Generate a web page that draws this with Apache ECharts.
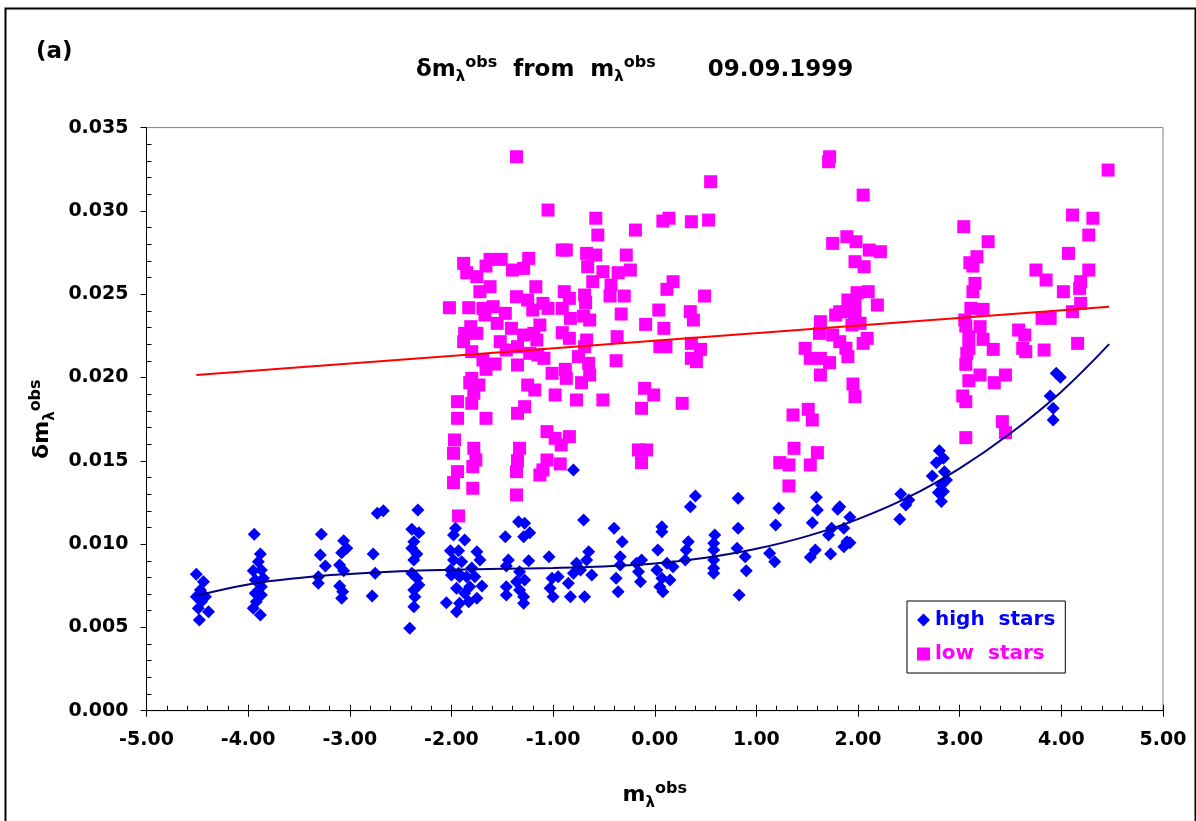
<!DOCTYPE html>
<html><head><meta charset="utf-8">
<script src="https://cdn.jsdelivr.net/npm/echarts@6/dist/echarts.min.js"></script>
<style>html,body{margin:0;padding:0;background:#fff}#c{width:1196px;height:821px}</style>
</head><body><div id="c"></div>
<script>
// ---- data ----
const xTickLabels = ['-5.00','-4.00','-3.00','-2.00','-1.00','0.00','1.00','2.00','3.00','4.00','5.00'];
const yTickLabels = ['0.000','0.005','0.010','0.015','0.020','0.025','0.030','0.035'];

const highStars = [
[-4.51,0.00819],[-4.44,0.00774],[-4.47,0.00724],[-4.51,0.00684],[-4.42,0.00684],[-4.46,0.00654],[-4.49,0.00615],[-4.39,0.00594],[-4.48,0.00544],
[-3.94,0.01059],[-3.88,0.00941],[-3.90,0.00894],[-3.95,0.00840],[-3.87,0.00845],[-3.85,0.00795],[-3.93,0.00785],[-3.87,0.00744],[-3.93,0.00705],[-3.87,0.00694],[-3.92,0.00654],[-3.95,0.00615],[-3.88,0.00574],
[-3.28,0.01059],[-3.29,0.00935],[-3.24,0.00869],[-3.31,0.00804],[-3.31,0.00765],
[-3.06,0.01020],[-3.03,0.00975],[-3.08,0.00948],[-3.10,0.00875],[-3.06,0.00840],[-3.10,0.00749],[-3.07,0.00714],[-3.08,0.00675],
[-2.77,0.00941],[-2.75,0.00825],[-2.78,0.00688],[-2.73,0.01185],[-2.67,0.01200],
[-2.33,0.01205],[-2.39,0.01089],[-2.32,0.01068],[-2.37,0.01014],[-2.39,0.00975],[-2.34,0.00941],[-2.37,0.00905],[-2.39,0.00825],[-2.34,0.00795],[-2.32,0.00754],[-2.37,0.00724],[-2.36,0.00684],[-2.37,0.00624],[-2.41,0.00495],
[-1.96,0.01095],[-1.98,0.01055],[-1.87,0.01025],[-2.01,0.00960],[-1.93,0.00960],[-1.98,0.00905],[-1.90,0.00894],[-2.00,0.00815],[-1.92,0.00804],[-1.95,0.00735],[-1.87,0.00705],[-2.05,0.00648],[-1.92,0.00645],[-1.95,0.00594],
[-1.75,0.00954],[-1.72,0.00905],[-1.85,0.00804],[-1.77,0.00804],[-1.82,0.00744],[-1.70,0.00749],[-1.75,0.00675],[-1.83,0.00654],[-2.01,0.00845],[-1.93,0.00825],[-1.80,0.00856],
[-1.47,0.01044],[-1.34,0.01134],[-1.28,0.01125],[-1.23,0.01068],[-1.29,0.01044],[-1.44,0.00905],[-1.46,0.00869],[-1.24,0.00900],[-1.33,0.00834],[-1.28,0.00785],[-1.36,0.00774],[-1.46,0.00744],[-1.33,0.00724],[-1.46,0.00694],[-1.29,0.00684],[-1.29,0.00645],
[-1.04,0.00924],[-1.01,0.00795],[-1.03,0.00735],[-1.00,0.00684],[-0.95,0.00804],[-0.83,0.00684],[-0.85,0.00765],[-0.80,0.00825],[-0.77,0.00885],[-0.73,0.00845],[-0.65,0.00954],[-0.67,0.00905],[-0.69,0.00684],[-0.62,0.00815],[-0.70,0.01145],[-0.80,0.01445],
[-0.40,0.01095],[-0.32,0.01014],[-0.34,0.00924],[-0.34,0.00875],[-0.38,0.00795],[-0.36,0.00714],[-0.18,0.00885],[-0.13,0.00905],[-0.16,0.00834],[-0.14,0.00774],
[0.07,0.01104],[0.07,0.01074],[0.03,0.00965],[0.02,0.00845],[0.07,0.00795],[0.15,0.00785],[0.05,0.00744],[0.08,0.00714],[0.18,0.00864],[0.12,0.00885],
[0.40,0.01289],[0.35,0.01224],[0.33,0.01014],[0.31,0.00965],[0.30,0.00905],
[0.59,0.01055],[0.58,0.01005],[0.58,0.00965],[0.58,0.00905],[0.58,0.00855],[0.58,0.00825],
[0.82,0.01275],[0.82,0.01095],[0.81,0.00975],[0.89,0.00924],[0.90,0.00840],[0.83,0.00694],
[1.22,0.01215],[1.19,0.01115],[1.13,0.00945],[1.18,0.00894],
[1.59,0.01281],[1.60,0.01205],[1.55,0.01128],[1.82,0.01224],[1.80,0.01209],[1.92,0.01161],[1.86,0.01095],[1.74,0.01095],[1.71,0.01055],[1.89,0.01014],[1.92,0.01008],[1.86,0.00984],[1.58,0.00965],[1.53,0.00921],[1.73,0.00941],
[2.42,0.01301],[2.50,0.01265],[2.47,0.01235],[2.41,0.01149],
[2.80,0.01561],[2.84,0.01515],[2.77,0.01489],[2.85,0.01435],[2.73,0.01409],[2.87,0.01385],[2.82,0.01355],[2.79,0.01309],[2.84,0.01315],[2.82,0.01255],
[3.95,0.02025],[3.99,0.02001],[3.89,0.01889],[3.92,0.01815],[3.92,0.01745]
];

const lowStars = [
[-1.36,0.03325],[0.55,0.03175],[-1.05,0.03005],[-0.58,0.02956],[-0.56,0.02855],[-0.19,0.02885],[0.08,0.02939],[0.14,0.02956],[0.36,0.02935],[0.53,0.02945],
[-0.91,0.02765],[-0.87,0.02765],[-0.67,0.02745],[-0.58,0.02735],[-0.28,0.02735],[-1.88,0.02685],[-1.62,0.02709],[-1.51,0.02709],[-1.24,0.02715],[-1.66,0.02669],
[-1.40,0.02645],[-1.29,0.02655],[-1.85,0.02629],[-1.75,0.02605],[-0.66,0.02665],[-0.51,0.02635],[-0.36,0.02629],[-0.24,0.02645],[0.18,0.02575],[0.12,0.02529],
[-1.72,0.02515],[-1.62,0.02545],[-1.17,0.02545],[-0.61,0.02575],[-0.43,0.02555],[-0.44,0.02489],[-0.30,0.02489],[-0.89,0.02515],[-0.84,0.02475],[-0.69,0.02495],
[-0.68,0.02449],[0.49,0.02489],[-2.02,0.02419],[-1.83,0.02419],[-1.69,0.02415],[-1.59,0.02425],[-1.36,0.02485],[-1.25,0.02465],[-1.20,0.02405],[-1.10,0.02445],
[-1.05,0.02415],[-0.91,0.02415],[-1.67,0.02375],[-1.47,0.02385],[-0.83,0.02355],[-0.70,0.02369],[-0.64,0.02345],[-0.33,0.02381],[0.04,0.02405],[0.35,0.02395],
[0.38,0.02345],[-0.09,0.02319],[0.09,0.02295],[-1.81,0.02305],[-1.75,0.02265],[-1.87,0.02265],[-1.55,0.02325],[-1.41,0.02295],[-1.29,0.02255],[-1.19,0.02265],
[-1.13,0.02315],[-0.91,0.02269],[-0.84,0.02235],[-0.67,0.02225],[-0.37,0.02245],[-1.88,0.02215],[-1.52,0.02215],[-1.16,0.02225],[-1.35,0.02185],[-1.46,0.02165],
[-1.80,0.02155],[-0.69,0.02185],[0.05,0.02185],[0.11,0.02185],[0.36,0.02205],[0.45,0.02169],[-1.23,0.02145],[-1.09,0.02115],[-1.15,0.02135],[-0.75,0.02125],
[0.36,0.02115],[0.41,0.02095],[-0.38,0.02101],[-1.69,0.02105],[-1.57,0.02081],[-1.35,0.02075],[-1.66,0.02049],[-0.65,0.02085],[-0.88,0.02049],[-1.01,0.02025],
[-0.64,0.02015],[-1.80,0.01995],[-0.87,0.01995],[-1.73,0.01955],[-1.82,0.01969],[-1.25,0.01955],[-0.72,0.01969],[-1.18,0.01925],[-0.98,0.01895],[-0.10,0.01935],
[-0.01,0.01895],[-1.78,0.01905],[-1.94,0.01855],[-1.80,0.01845],[-0.77,0.01865],[-0.51,0.01865],[0.27,0.01845],[-1.28,0.01825],[-1.35,0.01785],[-1.94,0.01755],
[-1.66,0.01755],[-0.13,0.01815],[-1.06,0.01675],[-0.98,0.01635],[-0.84,0.01645],[-0.92,0.01595],[-1.97,0.01625],[-1.78,0.01575],[-1.33,0.01575],[-1.98,0.01545],
[-0.16,0.01565],[-0.08,0.01565],[-1.76,0.01505],[-1.35,0.01501],[-1.06,0.01505],[-0.93,0.01481],[-0.13,0.01489],[-1.94,0.01435],[-1.79,0.01465],[-1.36,0.01435],
[-1.10,0.01445],[-1.13,0.01415],[-1.98,0.01369],[-1.79,0.01335],[-1.36,0.01295],[-1.93,0.01169],
[1.72,0.03325],[1.71,0.03295],[2.05,0.03095],[4.46,0.03245],[4.11,0.02975],[4.31,0.02956],[4.27,0.02855],[3.04,0.02905],[3.28,0.02815],[1.75,0.02805],
[1.89,0.02845],[1.98,0.02815],[2.11,0.02765],[2.22,0.02755],[1.97,0.02695],[2.06,0.02665],[3.17,0.02725],[3.10,0.02689],[3.13,0.02669],[4.07,0.02745],
[3.75,0.02645],[3.85,0.02585],[4.27,0.02645],[4.19,0.02575],[4.18,0.02535],[4.02,0.02515],[3.15,0.02565],[3.13,0.02515],[2.10,0.02515],[1.99,0.02509],
[2.19,0.02435],[1.90,0.02465],[1.97,0.02435],[1.89,0.02395],[1.82,0.02395],[1.78,0.02375],[1.97,0.02375],[4.19,0.02445],[4.11,0.02395],[3.11,0.02415],
[3.23,0.02409],[3.05,0.02345],[3.81,0.02355],[3.89,0.02355],[1.63,0.02335],[2.02,0.02325],[1.94,0.02315],[1.62,0.02265],[3.20,0.02305],[3.06,0.02309],
[1.75,0.02255],[2.09,0.02235],[2.05,0.02205],[3.23,0.02229],[3.09,0.02245],[3.58,0.02285],[3.64,0.02255],[1.48,0.02175],[1.82,0.02215],[1.88,0.02175],
[3.09,0.02175],[3.33,0.02169],[3.62,0.02175],[3.65,0.02155],[3.83,0.02165],[4.16,0.02205],[1.53,0.02115],[1.63,0.02115],[1.72,0.02089],[1.90,0.02125],
[3.07,0.02145],[3.06,0.02079],[1.63,0.02015],[3.20,0.02015],[3.45,0.02015],[3.09,0.01981],[3.34,0.01969],[1.95,0.01961],[1.97,0.01885],[3.03,0.01889],
[3.06,0.01855],[1.36,0.01775],[1.51,0.01809],[1.55,0.01745],[3.42,0.01735],[3.45,0.01669],[3.06,0.01639],[1.37,0.01575],[1.60,0.01549],[1.23,0.01489],
[1.32,0.01475],[1.53,0.01475],[1.32,0.01349]
];

// trend line of "high stars" (polynomial curve)
const highTrend = [
[-4.51,0.00690],[-4.0,0.00758],[-3.5,0.00797],[-3.0,0.00821],[-2.5,0.00837],[-2.0,0.00846],[-1.5,0.00852],[-1.0,0.00857],[-0.5,0.00866],
[0.0,0.00883],[0.5,0.00918],[1.0,0.00972],[1.5,0.01048],[2.0,0.01150],[2.5,0.01283],[3.0,0.01455],[3.5,0.01665],[4.0,0.01915],[4.47,0.02200]
];
// linear trend line of "low stars"
const lowTrend = [[-4.51,0.02015],[4.47,0.02425]];

// ---- chart ----
const FONT = 'DejaVu Sans';
const chart = echarts.init(document.getElementById('c'), null, {renderer:'canvas'});

const big = {fontFamily:FONT, fontWeight:'bold', fontSize:23, color:'#000', lineHeight:30};
const sup = {fontFamily:FONT, fontWeight:'bold', fontSize:16, color:'#000', lineHeight:16, verticalAlign:'top'};
const sub = {fontFamily:FONT, fontWeight:'bold', fontSize:15, color:'#000', lineHeight:12, verticalAlign:'bottom'};

const option = {
  animation: false,
  backgroundColor: '#fff',
  title: {
    text: '{b|δm}{s|λ}{p|obs}{b|  from  m}{s|λ}{p|obs}{d|09.09.1999}',
    left: 416, top: 55, padding: 0,
    textStyle: { rich: { b: big, s: sub, p: sup, d: Object.assign({}, big, {padding:[0,0,0,52]}) } }
  },
  graphic: [
    { type:'rect', left:3, top:6, shape:{width:1190, height:840}, style:{fill:'none', stroke:'#000', lineWidth:2}, silent:true },
    { type:'text', left:36, top:41, style:{ text:'(a)', font:'bold 23px "DejaVu Sans"', fill:'#000' } }
  ],
  legend: {
    orient:'vertical', left:907, top:601,
    data:[
      {name:'high  stars', icon:'diamond', textStyle:{color:'#0000FF'}},
      {name:'low  stars', icon:'rect', textStyle:{color:'#FF00FF'}}
    ],
    itemWidth:13, itemHeight:13, itemGap:14, padding:[9,10,9,10],
    borderColor:'#000', borderWidth:1, backgroundColor:'#fff',
    textStyle:{fontFamily:FONT, fontWeight:'bold', fontSize:20},
    selectedMode:false
  },
  grid: { left:146.5, right:33, top:127.6, bottom:110.3, show:true, borderColor:'#808080', borderWidth:1, backgroundColor:'#fff' },
  xAxis: [
    {
      type:'value', min:-5, max:5, interval:1, position:'bottom',
      name:'{b|m}{s|λ}{p|obs}', nameLocation:'middle', nameGap:70,
      nameTextStyle:{ rich:{ b:Object.assign({}, big, {fontSize:22}), s:sub, p:sup } },
      axisLine:{ show:true, onZero:false, lineStyle:{color:'#000', width:1} },
      axisTick:{ show:true, length:6, lineStyle:{color:'#000'} },
      minorTick:{ show:true, splitNumber:5, length:-5, lineStyle:{color:'#000'} },
      splitLine:{ show:false },
      axisLabel:{ margin:20, fontFamily:FONT, fontWeight:'bold', fontSize:19, color:'#000',
        formatter: v => xTickLabels[Math.round(v + 5)] }
    },
    {
      type:'value', min:-5, max:5, interval:1, position:'bottom',
      axisLine:{ show:false }, axisLabel:{ show:false }, splitLine:{ show:false },
      axisTick:{ show:true, inside:true, length:6, lineStyle:{color:'#000'} }
    }
  ],
  yAxis: {
    type:'value', min:0, max:0.035, interval:0.005,
    name:'{b|δm}{s|λ}{p|obs}', nameLocation:'middle', nameGap:87, nameRotate:90,
    nameTextStyle:{ rich:{ b:Object.assign({}, big, {fontSize:22}), s:sub, p:sup } },
    axisLine:{ show:true, onZero:false, lineStyle:{color:'#000', width:1} },
    axisTick:{ show:true, length:6, lineStyle:{color:'#000'} },
    minorTick:{ show:true, splitNumber:5, length:-5, lineStyle:{color:'#000'} },
    splitLine:{ show:false },
    axisLabel:{ margin:18, fontFamily:FONT, fontWeight:'bold', fontSize:19, color:'#000',
      formatter: v => yTickLabels[Math.round(v / 0.005)] }
  },
  series: [
    { name:'high  stars', type:'scatter', data:highStars, symbol:'diamond', symbolSize:13,
      itemStyle:{color:'#0000FF', opacity:1}, z:2, silent:true },
    { name:'low  stars', type:'scatter', data:lowStars, symbol:'rect', symbolSize:13,
      itemStyle:{color:'#FF00FF', opacity:1}, z:3, silent:true },
    { name:'highTrend', type:'line', data:highTrend, smooth:0.4, showSymbol:false, symbol:'none',
      lineStyle:{color:'#000080', width:2}, z:5, silent:true },
    { name:'lowTrend', type:'line', data:lowTrend, showSymbol:false, symbol:'none',
      lineStyle:{color:'#FF0000', width:2}, z:5, silent:true }
  ]
};
chart.setOption(option);
</script>
</body></html>
